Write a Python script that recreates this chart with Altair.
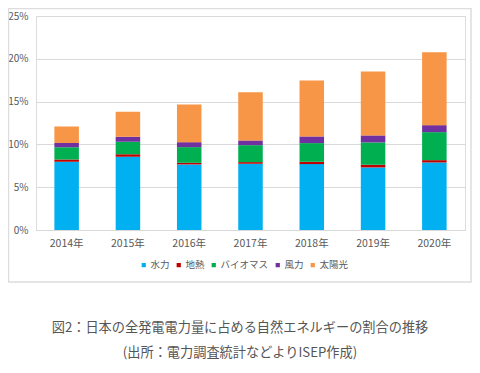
import altair as alt
import pandas as pd

years = ["2014年", "2015年", "2016年", "2017年", "2018年", "2019年", "2020年"]
sources = ["水力", "地熱", "バイオマス", "風力", "太陽光"]
colors = ["#00B0F0", "#C00000", "#00B050", "#7030A0", "#F79646"]

hydro = [7.97, 8.55, 7.66, 7.74, 7.70, 7.31, 7.89]
geo = [0.27, 0.31, 0.19, 0.19, 0.27, 0.31, 0.27]
bio = [1.44, 1.44, 1.83, 1.98, 2.18, 2.61, 3.27]
wind = [0.47, 0.59, 0.58, 0.55, 0.78, 0.82, 0.82]
solar = [1.94, 2.91, 4.40, 5.64, 6.53, 7.47, 8.51]

series = [hydro, geo, bio, wind, solar]
rows = []
for si, (name, vals) in enumerate(zip(sources, series)):
    for y, v in zip(years, vals):
        rows.append({"year": y, "source": name, "order": si, "value": v / 100})
df = pd.DataFrame(rows)

caption1 = "図2：日本の全発電電力量に占める自然エネルギーの割合の推移"
caption2 = "(出所：電力調査統計などよりISEP作成)"

FONT = "Noto Sans CJK JP"
W, H = 429, 214

bars = alt.Chart(df).mark_bar().encode(
    x=alt.X("year:N", sort=years, title=None,
            scale=alt.Scale(paddingInner=0.6, paddingOuter=0.3),
            axis=alt.Axis(labelAngle=0, labelFontSize=10.5, labelColor="#595959",
                          labelFont=FONT, ticks=False, domainColor="#D9D9D9",
                          labelPadding=8)),
    y=alt.Y("value:Q", stack="zero", title=None,
            scale=alt.Scale(domain=[0, 0.25]),
            axis=alt.Axis(values=[0, 0.05, 0.10, 0.15, 0.20, 0.25], format=".0%",
                          labelFontSize=10, labelColor="#595959", labelFont=FONT,
                          ticks=False, domain=False, gridColor="#D9D9D9",
                          labelPadding=8)),
    color=alt.Color("source:N", sort=sources,
                    scale=alt.Scale(domain=sources, range=colors),
                    legend=alt.Legend(title=None, orient="none", direction="horizontal",
                                      legendX=103, legendY=244, symbolType="square",
                                      symbolSize=18, symbolStrokeWidth=0,
                                      labelFontSize=9.5, labelFont=FONT,
                                      labelColor="#595959", columnPadding=4,
                                      symbolOffset=0, labelOffset=2)),
    order=alt.Order("order:Q"),
)

border = alt.Chart(pd.DataFrame({"a": [0]})).mark_rect(
    fill=None, stroke="#DDDDDD", strokeWidth=1.5
).encode(x=alt.value(-27.5), x2=alt.value(W + 6), y=alt.value(-7.5), y2=alt.value(266))

cap_df = pd.DataFrame({"t": [caption1, caption2], "yy": [312, 337]})
caps = alt.Chart(cap_df).mark_text(
    font=FONT, fontSize=13.2, color="#555555", align="center", baseline="middle"
).encode(text="t:N", x=alt.value(204), y=alt.Y("yy:Q", scale=None, axis=None))

chart = alt.layer(border, bars, caps).properties(
    width=W, height=H,
    autosize=alt.AutoSizeParams(type="none"),
    padding={"left": 28, "top": 8, "right": 7, "bottom": 135},
).configure_view(stroke=None).configure(background="white")

chart.save("out.html", embed_options={"renderer": "svg", "actions": False})
